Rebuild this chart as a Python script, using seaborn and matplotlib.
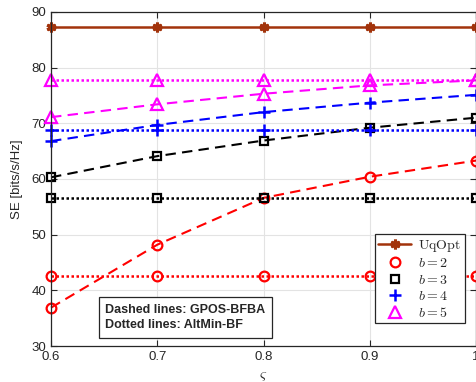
import numpy as np
import pandas as pd
import matplotlib
matplotlib.use('Agg')
import matplotlib.pyplot as plt
from matplotlib.lines import Line2D
import seaborn as sns

# data
zeta = [0.6, 0.7, 0.8, 0.9, 1.0]
uqopt = [87.3, 87.3, 87.3, 87.3, 87.3]
gpos = {
    2: [36.9, 48.2, 56.6, 60.4, 63.3],
    3: [60.3, 64.1, 66.9, 69.2, 71.0],
    4: [66.8, 69.7, 72.0, 73.7, 75.1],
    5: [71.1, 73.4, 75.3, 76.8, 77.7],
}
altmin = {
    2: [42.5, 42.5, 42.5, 42.5, 42.5],
    3: [56.6, 56.6, 56.6, 56.6, 56.6],
    4: [68.8, 68.8, 68.8, 68.8, 68.8],
    5: [77.7, 77.7, 77.7, 77.7, 77.7],
}

brown = '#A2330B'
colors = {2: '#FF0000', 3: '#000000', 4: '#0000FF', 5: '#FF00FF'}
markers = {2: 'o', 3: 's', 4: '+', 5: '^'}
msizes = {2: 7, 3: 6, 4: 8, 5: 8}

sns.set_style('ticks')
plt.rcParams['font.family'] = ['Liberation Sans', 'DejaVu Sans']
plt.rcParams['mathtext.fontset'] = 'cm'

fig = plt.figure(figsize=(4.77, 3.82), dpi=100)
ax = fig.add_axes([0.107, 0.094, 0.891, 0.875])


def marker_kw(b):
    if markers[b] == '+':
        return dict(marker='+', markersize=msizes[b], markeredgewidth=1.8,
                    markeredgecolor=colors[b])
    return dict(marker=markers[b], markersize=msizes[b], markerfacecolor='none',
                markeredgecolor=colors[b], markeredgewidth=1.6)


uq_kw = dict(marker=(6, 2, 0), markersize=7, markeredgewidth=2.2,
             markeredgecolor=brown, markerfacecolor=brown)

df_uq = pd.DataFrame({'zeta': zeta, 'SE': uqopt})
sns.lineplot(data=df_uq, x='zeta', y='SE', ax=ax, color=brown, lw=1.8,
             clip_on=False, **uq_kw)

for b in [2, 3, 4, 5]:
    d1 = pd.DataFrame({'zeta': zeta, 'SE': gpos[b]})
    d2 = pd.DataFrame({'zeta': zeta, 'SE': altmin[b]})
    sns.lineplot(data=d1, x='zeta', y='SE', ax=ax, color=colors[b], lw=1.5,
                 linestyle=(0, (5, 3)), clip_on=False, **marker_kw(b))
    sns.lineplot(data=d2, x='zeta', y='SE', ax=ax, color=colors[b], lw=1.8,
                 linestyle=(0, (1, 1)), clip_on=False, **marker_kw(b))

ax.set_xlim(0.6, 1.0)
ax.set_ylim(30, 90)
ax.set_xticks([0.6, 0.7, 0.8, 0.9, 1.0])
ax.set_xticklabels(['0.6', '0.7', '0.8', '0.9', '1'])
ax.set_yticks([30, 40, 50, 60, 70, 80, 90])
ax.grid(True, color='#E3E3E3', lw=0.8)
ax.set_axisbelow(True)
ax.tick_params(direction='in', labelsize=9.5, colors='#262626', length=4,
               top=True, right=True)
for s in ax.spines.values():
    s.set_color('#262626')
    s.set_linewidth(0.9)
ax.set_xlabel(r'$\varsigma$', fontsize=11, labelpad=4)
ax.set_ylabel('SE [bits/s/Hz]', fontsize=9.5, color='#262626', labelpad=6)

handles = [Line2D([], [], color=brown, lw=1.8, **uq_kw)]
labels = [r'$\mathrm{UqOpt}$']
for b in [2, 3, 4, 5]:
    handles.append(Line2D([], [], ls='none', **marker_kw(b)))
    labels.append(r'$b = %d$' % b)
leg = ax.legend(handles, labels, loc='lower right', bbox_to_anchor=(0.973, 0.069),
                fontsize=10, frameon=True, fancybox=False, framealpha=1,
                edgecolor='#262626', borderpad=0.25, labelspacing=0.18,
                handlelength=2.4, handletextpad=0.5, borderaxespad=0)
leg.get_frame().set_linewidth(0.9)

ax.text(0.128, 0.045, 'Dashed lines: GPOS-BFBA\nDotted lines: AltMin-BF',
        transform=ax.transAxes, fontsize=9, fontweight='bold', va='bottom',
        ha='left', linespacing=1.35,
        bbox=dict(boxstyle='square,pad=0.55', fc='white', ec='#262626', lw=0.9))

plt.savefig('out.png', dpi=100)
